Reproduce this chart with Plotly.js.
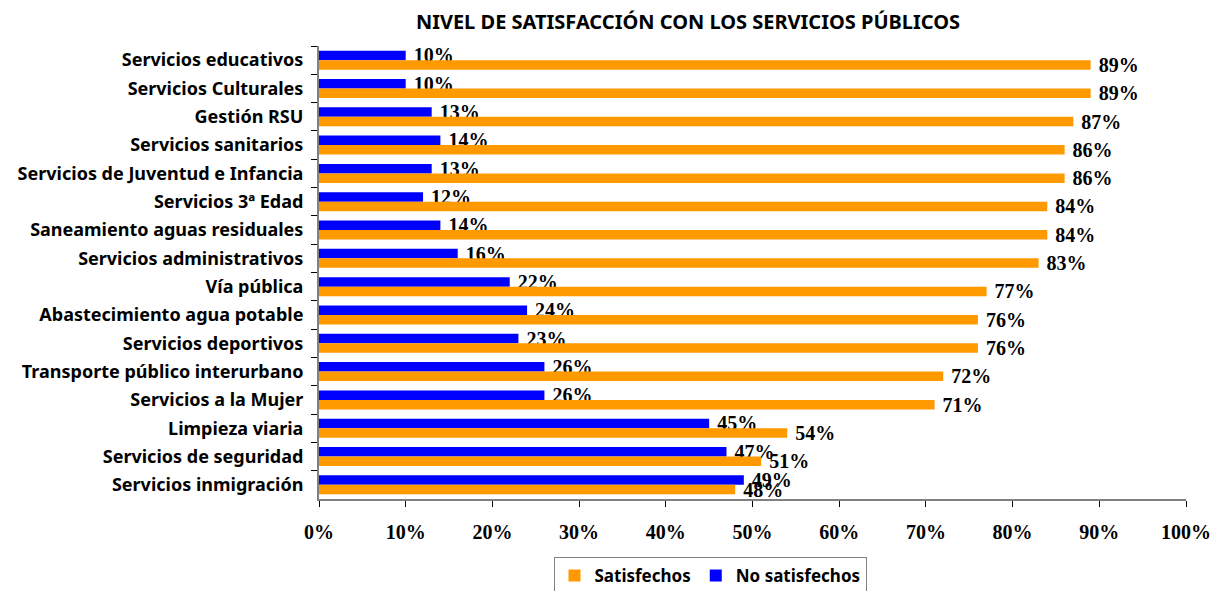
<!DOCTYPE html>
<html>
<head>
<meta charset="utf-8">
<script src="https://cdn.plot.ly/plotly-3.0.1.min.js"></script>
<style>html,body{margin:0;padding:0;background:#fff;}#chart{width:1215px;height:591px;}</style>
</head>
<body>
<div id="chart"></div>
<script>
var categories = [
  "Servicios educativos",
  "Servicios Culturales",
  "Gestión RSU",
  "Servicios sanitarios",
  "Servicios de Juventud e Infancia",
  "Servicios 3ª Edad",
  "Saneamiento aguas residuales",
  "Servicios administrativos",
  "Vía pública",
  "Abastecimiento agua potable",
  "Servicios deportivos",
  "Transporte público interurbano",
  "Servicios a la Mujer",
  "Limpieza viaria",
  "Servicios de seguridad",
  "Servicios inmigración"
];
var noSatisfechos = [0.10, 0.10, 0.13, 0.14, 0.13, 0.12, 0.14, 0.16, 0.22, 0.24, 0.23, 0.26, 0.26, 0.45, 0.47, 0.49];
var satisfechos   = [0.89, 0.89, 0.87, 0.86, 0.86, 0.84, 0.84, 0.83, 0.77, 0.76, 0.76, 0.72, 0.71, 0.54, 0.51, 0.48];
var xTickVals = [0, 0.1, 0.2, 0.3, 0.4, 0.5, 0.6, 0.7, 0.8, 0.9, 1.0];

var sans = "Noto Sans, Open Sans, sans-serif";
var serif = "Liberation Serif, DejaVu Serif, serif";

var labelFont = {family: serif, size: 20, color: "#000", weight: "bold"};

var traces = [
  {
    type: "bar", orientation: "h", name: "No satisfechos",
    y: categories, x: noSatisfechos,
    marker: {color: "#0000FF"},
    text: noSatisfechos, texttemplate: " %{x:.0%}", textposition: "outside",
    textfont: labelFont, constraintext: "none", cliponaxis: false,
    hoverinfo: "x+y"
  },
  {
    type: "bar", orientation: "h", name: "Satisfechos",
    y: categories, x: satisfechos,
    marker: {color: "#FF9900"},
    text: satisfechos, texttemplate: " %{x:.0%}", textposition: "outside",
    textfont: labelFont, constraintext: "none", cliponaxis: false,
    hoverinfo: "x+y"
  }
];

var layout = {
  width: 1215, height: 591,
  paper_bgcolor: "#fff", plot_bgcolor: "#fff",
  margin: {l: 319, r: 29, t: 46, b: 92, pad: 0},
  barmode: "group", bargap: 0.33, bargroupgap: 0,
  title: {
    text: "NIVEL DE SATISFACCIÓN CON LOS SERVICIOS PÚBLICOS",
    font: {family: sans, size: 20, color: "#000", weight: "bold"},
    x: 688 / 1215, xanchor: "center", xref: "container",
    y: 1 - 22 / 591, yanchor: "middle", yref: "container"
  },
  xaxis: {
    range: [0, 1], tickvals: xTickVals, tickformat: ".0%",
    ticks: "outside", ticklen: 6, tickcolor: "#000", tickwidth: 1,
    showline: true, linecolor: "#808080", linewidth: 2,
    showgrid: false, zeroline: false,
    ticklabelstandoff: 8,
    tickfont: {family: serif, size: 20, color: "#000", weight: "bold"},
    fixedrange: true
  },
  yaxis: {
    autorange: "reversed", type: "category",
    ticks: "outside", tickson: "boundaries", ticklen: 6, tickcolor: "#000", tickwidth: 1,
    showline: true, linecolor: "#808080", linewidth: 2,
    showgrid: false, zeroline: false,
    ticklabelstandoff: 10,
    tickfont: {family: sans, size: 18, color: "#000", weight: "bold"},
    fixedrange: true
  },
  legend: {
    orientation: "h", traceorder: "reversed",
    xref: "container", yref: "container",
    x: 710 / 1215, xanchor: "center",
    y: 1 - 557 / 591, yanchor: "top",
    bordercolor: "#808080", borderwidth: 1,
    font: {family: sans, size: 17, color: "#000", weight: "bold"},
    itemwidth: 30
  },
  showlegend: true
};

Plotly.newPlot("chart", traces, layout, {displayModeBar: false, staticPlot: true});
</script>
</body>
</html>
